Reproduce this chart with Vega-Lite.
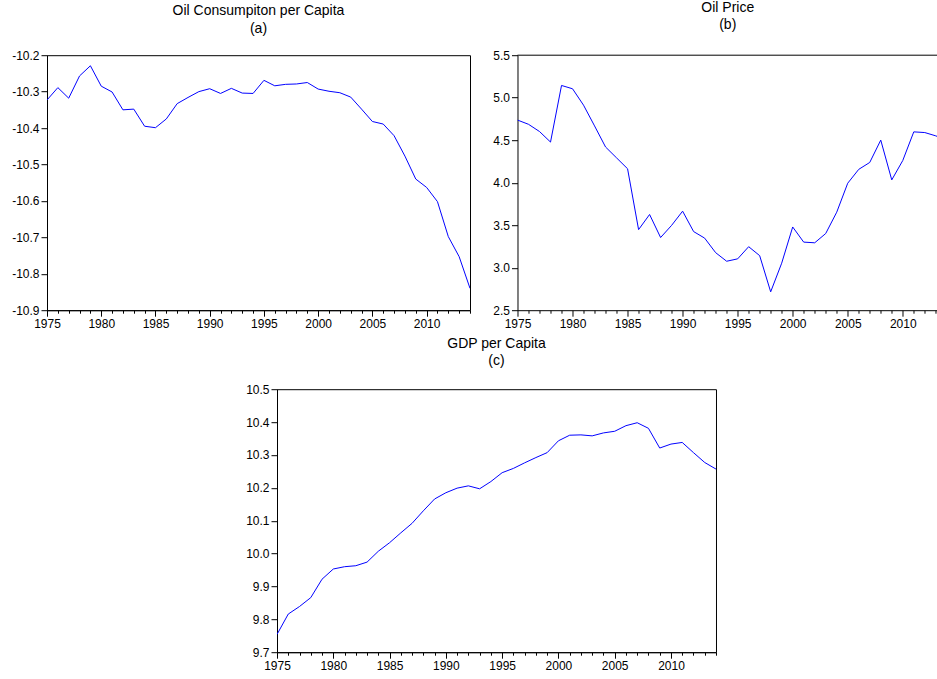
{
  "$schema": "https://vega.github.io/schema/vega-lite/v6.json",
  "padding": {"left": 11, "top": 0.2, "right": 0, "bottom": 0},
  "background": "white",
  "config": {
    "font": "Liberation Sans",
    "view": {"stroke": "black", "strokeWidth": 1},
    "axis": {"domainColor": "black", "domainWidth": 1, "tickColor": "black", "tickWidth": 1, "labelColor": "black", "labelFontSize": 12, "labelFont": "Liberation Sans", "grid": false, "labelPadding": 2},
    "title": {"fontSize": 14, "fontWeight": "normal", "font": "Liberation Sans", "color": "black", "lineHeight": 17.5, "offset": 13.5, "anchor": "middle"},
    "line": {"color": "#0000ff", "strokeWidth": 1}
  },
  "datasets": {
    "oil": [
      {"year": 1975, "value": -10.323}, {"year": 1976, "value": -10.289}, {"year": 1977, "value": -10.318}, {"year": 1978, "value": -10.257},
      {"year": 1979, "value": -10.229}, {"year": 1980, "value": -10.285}, {"year": 1981, "value": -10.301}, {"year": 1982, "value": -10.350},
      {"year": 1983, "value": -10.348}, {"year": 1984, "value": -10.395}, {"year": 1985, "value": -10.399}, {"year": 1986, "value": -10.375},
      {"year": 1987, "value": -10.333}, {"year": 1988, "value": -10.316}, {"year": 1989, "value": -10.300}, {"year": 1990, "value": -10.292},
      {"year": 1991, "value": -10.305}, {"year": 1992, "value": -10.291}, {"year": 1993, "value": -10.304}, {"year": 1994, "value": -10.305},
      {"year": 1995, "value": -10.269}, {"year": 1996, "value": -10.284}, {"year": 1997, "value": -10.280}, {"year": 1998, "value": -10.279},
      {"year": 1999, "value": -10.275}, {"year": 2000, "value": -10.293}, {"year": 2001, "value": -10.299}, {"year": 2002, "value": -10.303},
      {"year": 2003, "value": -10.315}, {"year": 2004, "value": -10.348}, {"year": 2005, "value": -10.382}, {"year": 2006, "value": -10.389},
      {"year": 2007, "value": -10.421}, {"year": 2008, "value": -10.477}, {"year": 2009, "value": -10.540}, {"year": 2010, "value": -10.563},
      {"year": 2011, "value": -10.602}, {"year": 2012, "value": -10.698}, {"year": 2013, "value": -10.753}, {"year": 2014, "value": -10.840}
    ],
    "price": [
      {"year": 1975, "value": 4.737}, {"year": 1976, "value": 4.687}, {"year": 1977, "value": 4.602}, {"year": 1978, "value": 4.478},
      {"year": 1979, "value": 5.144}, {"year": 1980, "value": 5.105}, {"year": 1981, "value": 4.912}, {"year": 1982, "value": 4.668},
      {"year": 1983, "value": 4.420}, {"year": 1984, "value": 4.292}, {"year": 1985, "value": 4.164}, {"year": 1986, "value": 3.448},
      {"year": 1987, "value": 3.626}, {"year": 1988, "value": 3.355}, {"year": 1989, "value": 3.498}, {"year": 1990, "value": 3.665},
      {"year": 1991, "value": 3.425}, {"year": 1992, "value": 3.348}, {"year": 1993, "value": 3.177}, {"year": 1994, "value": 3.076},
      {"year": 1995, "value": 3.104}, {"year": 1996, "value": 3.247}, {"year": 1997, "value": 3.142}, {"year": 1998, "value": 2.716},
      {"year": 1999, "value": 3.053}, {"year": 2000, "value": 3.479}, {"year": 2001, "value": 3.301}, {"year": 2002, "value": 3.293},
      {"year": 2003, "value": 3.402}, {"year": 2004, "value": 3.653}, {"year": 2005, "value": 3.994}, {"year": 2006, "value": 4.157},
      {"year": 2007, "value": 4.238}, {"year": 2008, "value": 4.501}, {"year": 2009, "value": 4.033}, {"year": 2010, "value": 4.261},
      {"year": 2011, "value": 4.598}, {"year": 2012, "value": 4.590}, {"year": 2013, "value": 4.551}, {"year": 2014, "value": 4.50}
    ],
    "gdp": [
      {"year": 1975, "value": 9.754}, {"year": 1976, "value": 9.816}, {"year": 1977, "value": 9.839}, {"year": 1978, "value": 9.866},
      {"year": 1979, "value": 9.922}, {"year": 1980, "value": 9.953}, {"year": 1981, "value": 9.960}, {"year": 1982, "value": 9.963},
      {"year": 1983, "value": 9.974}, {"year": 1984, "value": 10.007}, {"year": 1985, "value": 10.033}, {"year": 1986, "value": 10.063},
      {"year": 1987, "value": 10.092}, {"year": 1988, "value": 10.130}, {"year": 1989, "value": 10.166}, {"year": 1990, "value": 10.185},
      {"year": 1991, "value": 10.199}, {"year": 1992, "value": 10.206}, {"year": 1993, "value": 10.197}, {"year": 1994, "value": 10.219},
      {"year": 1995, "value": 10.246}, {"year": 1996, "value": 10.259}, {"year": 1997, "value": 10.276}, {"year": 1998, "value": 10.292},
      {"year": 1999, "value": 10.307}, {"year": 2000, "value": 10.343}, {"year": 2001, "value": 10.360}, {"year": 2002, "value": 10.361},
      {"year": 2003, "value": 10.358}, {"year": 2004, "value": 10.367}, {"year": 2005, "value": 10.372}, {"year": 2006, "value": 10.389},
      {"year": 2007, "value": 10.398}, {"year": 2008, "value": 10.381}, {"year": 2009, "value": 10.321}, {"year": 2010, "value": 10.333},
      {"year": 2011, "value": 10.338}, {"year": 2012, "value": 10.307}, {"year": 2013, "value": 10.277}, {"year": 2014, "value": 10.257}
    ]
  },
  "spacing": 6,
  "vconcat": [
    {
      "spacing": 21.5,
      "hconcat": [
        {
          "title": {"text": ["Oil Consumpiton per Capita", "(a)"]},
          "width": 423, "height": 255,
          "data": {"name": "oil"},
          "mark": {"type": "line", "clip": true},
          "encoding": {
            "x": {"field": "year", "type": "quantitative", "title": null,
              "scale": {"domain": [1975, 2014], "nice": false, "zero": false},
              "axis": {"values": [1975,1976,1977,1978,1979,1980,1981,1982,1983,1984,1985,1986,1987,1988,1989,1990,1991,1992,1993,1994,1995,1996,1997,1998,1999,2000,2001,2002,2003,2004,2005,2006,2007,2008,2009,2010,2011,2012,2013,2014],
                "format": "d", "labelExpr": "datum.value % 5 === 0 ? datum.label : ''", "labelFlush": false, "labelOverlap": false,
                "tickSize": {"condition": {"test": "datum.value % 5 === 0", "value": 6}, "value": 3}}},
            "y": {"field": "value", "type": "quantitative", "title": null,
              "scale": {"domain": [-10.9, -10.2], "nice": false, "zero": false},
              "axis": {"values": [-10.9,-10.8,-10.7,-10.6,-10.5,-10.4,-10.3,-10.2], "format": ".1f", "labelExpr": "replace(datum.label, '−', '-')", "tickSize": 6, "labelFlush": false, "labelOverlap": false}}
          }
        },
        {
          "title": {"text": ["Oil Price", "(b)"], "offset": 16.8},
          "width": 420.5, "height": 255,
          "view": {"stroke": null},
          "layer": [
            {
              "data": {"name": "price"},
              "mark": {"type": "line", "clip": true},
              "encoding": {
                "x": {"field": "year", "type": "quantitative", "title": null,
                  "scale": {"domain": [1975, 2013.2], "nice": false, "zero": false},
                  "axis": {"values": [1975,1976,1977,1978,1979,1980,1981,1982,1983,1984,1985,1986,1987,1988,1989,1990,1991,1992,1993,1994,1995,1996,1997,1998,1999,2000,2001,2002,2003,2004,2005,2006,2007,2008,2009,2010,2011,2012,2013],
                    "format": "d", "labelExpr": "datum.value % 5 === 0 ? datum.label : ''", "labelFlush": false, "labelOverlap": false,
                    "tickSize": {"condition": {"test": "datum.value % 5 === 0", "value": 6}, "value": 3}}},
                "y": {"field": "value", "type": "quantitative", "title": null,
                  "scale": {"domain": [2.5, 5.5], "nice": false, "zero": false},
                  "axis": {"values": [2.5,3.0,3.5,4.0,4.5,5.0,5.5], "format": ".1f", "tickSize": 6, "labelFlush": false, "labelOverlap": false}}
              }
            },
            {
              "data": {"values": [{"top": 5.5}]},
              "mark": {"type": "rule", "color": "black", "strokeWidth": 1},
              "encoding": {"y": {"field": "top", "type": "quantitative"}}
            }
          ]
        }
      ]
    },
    {
      "spacing": 0,
      "hconcat": [
        {
          "width": 197.5, "height": 1,
          "view": {"stroke": null},
          "data": {"values": [{"k": 0}]},
          "mark": {"type": "point", "opacity": 0},
          "encoding": {}
        },
        {
          "title": {"text": ["GDP per Capita", "(c)"], "offset": 15},
          "width": 439, "height": 263,
          "data": {"name": "gdp"},
          "mark": {"type": "line", "clip": true},
          "encoding": {
            "x": {"field": "year", "type": "quantitative", "title": null,
              "scale": {"domain": [1975, 2014], "nice": false, "zero": false},
              "axis": {"values": [1975,1976,1977,1978,1979,1980,1981,1982,1983,1984,1985,1986,1987,1988,1989,1990,1991,1992,1993,1994,1995,1996,1997,1998,1999,2000,2001,2002,2003,2004,2005,2006,2007,2008,2009,2010,2011,2012,2013,2014],
                "format": "d", "labelExpr": "datum.value % 5 === 0 ? datum.label : ''", "labelFlush": false, "labelOverlap": false,
                "tickSize": {"condition": {"test": "datum.value % 5 === 0", "value": 6}, "value": 3}}},
            "y": {"field": "value", "type": "quantitative", "title": null,
              "scale": {"domain": [9.7, 10.5], "nice": false, "zero": false},
              "axis": {"values": [9.7,9.8,9.9,10.0,10.1,10.2,10.3,10.4,10.5], "format": ".1f", "tickSize": 6, "labelFlush": false, "labelOverlap": false}}
          }
        }
      ]
    }
  ]
}
